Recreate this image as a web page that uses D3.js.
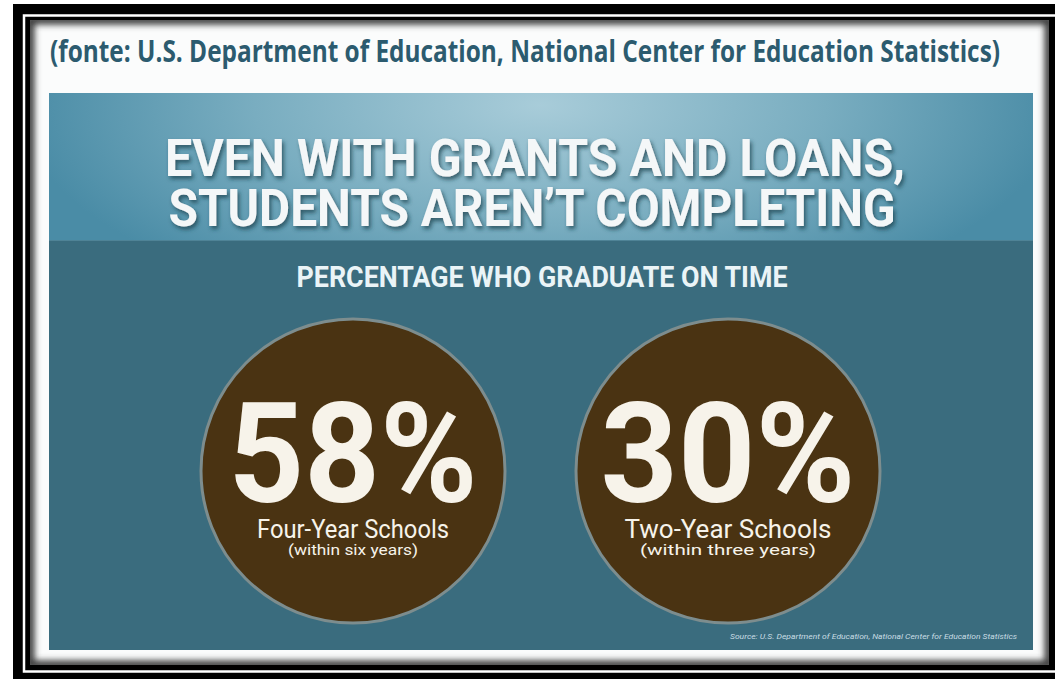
<!DOCTYPE html>
<html>
<head>
<meta charset="utf-8">
<script src="https://cdn.jsdelivr.net/npm/d3@7"></script>
<style>
  html, body { margin: 0; padding: 0; background: #ffffff; }
  svg { display: block; }
</style>
</head>
<body>
<svg id="chart" width="1055" height="679"></svg>
<script>
// ---- data ----
const sourceLine = "(fonte: U.S. Department of Education, National Center for Education Statistics)";
const titleLines = ["EVEN WITH GRANTS AND LOANS,", "STUDENTS AREN\u2019T COMPLETING"];
const subtitle = "PERCENTAGE WHO GRADUATE ON TIME";
const categories = ["Four-Year Schools", "Two-Year Schools"];
const notes = ["(within six years)", "(within three years)"];
const values = [58, 30];
const footnote = "Source: U.S. Department of Education, National Center for Education Statistics";

const svg = d3.select("#chart");
const defs = svg.append("defs");

// ---- frame ----
svg.append("rect").attr("x", 13).attr("y", 4).attr("width", 1042).attr("height", 675).attr("fill", "#000");
svg.append("rect").attr("x", 24).attr("y", 15.5).attr("width", 1060).attr("height", 656)
  .attr("fill", "none").attr("stroke", "#fff").attr("stroke-width", 2.5);
svg.append("rect").attr("x", 28).attr("y", 19).attr("width", 1040).attr("height", 648).attr("fill", "#000");

// white mat with a soft inner shadow
defs.append("clipPath").attr("id", "matClip")
  .append("rect").attr("x", 30).attr("y", 20).attr("width", 1019).attr("height", 645);
defs.append("filter").attr("id", "soft").attr("x", "-5%").attr("y", "-5%").attr("width", "110%").attr("height", "110%")
  .append("feGaussianBlur").attr("stdDeviation", 3);
svg.append("rect").attr("x", 30).attr("y", 20).attr("width", 1019).attr("height", 645).attr("fill", "#fbfcfc");
svg.append("g").attr("clip-path", "url(#matClip)")
  .append("rect").attr("x", 30).attr("y", 20).attr("width", 1019).attr("height", 645)
  .attr("fill", "none").attr("stroke", "#3a3a3a").attr("stroke-width", 9).attr("filter", "url(#soft)");

// ---- source line above the panel ----
svg.append("text")
  .attr("x", 525).attr("y", 62)
  .attr("text-anchor", "middle")
  .attr("font-family", "'Open Sans', 'Noto Sans', sans-serif")
  .attr("font-weight", 700)
  .attr("font-size", 31)
  .attr("fill", "#2c5b6f")
  .attr("textLength", 950).attr("lengthAdjust", "spacingAndGlyphs")
  .text(sourceLine);

// ---- panel ----
const panel = { x: 49, y: 93, w: 984, h: 557, headerH: 147 };

const rg = defs.append("radialGradient").attr("id", "headerGrad")
  .attr("gradientUnits", "userSpaceOnUse")
  .attr("cx", 540).attr("cy", 105).attr("r", 520)
  .attr("gradientTransform", "translate(540,105) scale(1,0.42) translate(-540,-105)");
rg.append("stop").attr("offset", 0).attr("stop-color", "#a8ccd9");
rg.append("stop").attr("offset", 0.55).attr("stop-color", "#79adc0");
rg.append("stop").attr("offset", 1).attr("stop-color", "#4a8ca6");

svg.append("rect").attr("x", panel.x).attr("y", panel.y).attr("width", panel.w).attr("height", panel.h)
  .attr("fill", "#3a6c7e");
svg.append("rect").attr("x", panel.x).attr("y", panel.y).attr("width", panel.w).attr("height", panel.headerH)
  .attr("fill", "url(#headerGrad)");
svg.append("line")
  .attr("x1", panel.x).attr("x2", panel.x + panel.w)
  .attr("y1", panel.y + panel.headerH + 0.5).attr("y2", panel.y + panel.headerH + 0.5)
  .attr("stroke", "#4f8396").attr("stroke-width", 1);

// title with drop shadow
const shadow = defs.append("filter").attr("id", "titleShadow")
  .attr("x", "-5%").attr("y", "-20%").attr("width", "110%").attr("height", "150%");
shadow.append("feDropShadow").attr("dx", 2).attr("dy", 3).attr("stdDeviation", 2)
  .attr("flood-color", "#1d3f4d").attr("flood-opacity", 0.75);

const titleY = d3.scalePoint().domain(titleLines).range([176, 226]);
const titleWidth = [740, 727];
svg.append("g").attr("filter", "url(#titleShadow)")
  .selectAll("text").data(titleLines).join("text")
  .attr("x", (d, i) => i === 0 ? 535 : 532)
  .attr("y", d => titleY(d))
  .attr("text-anchor", "middle")
  .attr("font-family", "Roboto, 'DejaVu Sans', sans-serif")
  .attr("font-weight", 700)
  .attr("font-size", 52)
  .attr("fill", "#f4f7f8")
  .attr("textLength", (d, i) => titleWidth[i]).attr("lengthAdjust", "spacingAndGlyphs")
  .text(d => d);

svg.append("text")
  .attr("x", 542).attr("y", 287)
  .attr("text-anchor", "middle")
  .attr("font-family", "Roboto, 'DejaVu Sans', sans-serif")
  .attr("font-weight", 700)
  .attr("font-size", 30)
  .attr("fill", "#eaf4f7")
  .attr("textLength", 491).attr("lengthAdjust", "spacingAndGlyphs")
  .text(subtitle);

// ---- circles with percentages ----
const x = d3.scalePoint().domain(categories).range([353, 728]);
const cy = 471, r = 152;
const fmt = d => d3.format("d")(d) + "%";

const groups = svg.append("g").selectAll("g")
  .data(categories.map((c, i) => ({ cat: c, note: notes[i], value: values[i], i })))
  .join("g")
  .attr("transform", d => `translate(${x(d.cat)},${cy})`);

groups.append("circle")
  .attr("r", r)
  .attr("fill", "#4a3312")
  .attr("stroke", "#7d8d8e")
  .attr("stroke-width", 3);

const bigW = [249, 255];
groups.append("text")
  .attr("y", 31)
  .attr("text-anchor", "middle")
  .attr("font-family", "Roboto, 'DejaVu Sans', sans-serif")
  .attr("font-weight", 700)
  .attr("font-size", 139)
  .attr("fill", "#f7f3ea")
  .attr("textLength", d => bigW[d.i]).attr("lengthAdjust", "spacingAndGlyphs")
  .text(d => fmt(d.value));

const catW = [192, 207];
groups.append("text")
  .attr("y", 67)
  .attr("text-anchor", "middle")
  .attr("font-family", "Roboto, 'DejaVu Sans', sans-serif")
  .attr("font-weight", 400)
  .attr("font-size", 25)
  .attr("fill", "#f7f3ea")
  .attr("textLength", d => catW[d.i]).attr("lengthAdjust", "spacingAndGlyphs")
  .text(d => d.cat);

const noteW = [130, 176];
groups.append("text")
  .attr("y", 84)
  .attr("text-anchor", "middle")
  .attr("font-family", "Roboto, 'DejaVu Sans', sans-serif")
  .attr("font-weight", 400)
  .attr("font-size", 15)
  .attr("fill", "#f7f3ea")
  .attr("textLength", d => noteW[d.i]).attr("lengthAdjust", "spacingAndGlyphs")
  .text(d => d.note);

// ---- footnote ----
svg.append("text")
  .attr("x", 1017).attr("y", 639)
  .attr("text-anchor", "end")
  .attr("font-family", "Roboto, 'DejaVu Sans', sans-serif")
  .attr("font-style", "italic")
  .attr("font-size", 8)
  .attr("fill", "#c9dde4")
  .attr("textLength", 287).attr("lengthAdjust", "spacingAndGlyphs")
  .text(footnote);
</script>
</body>
</html>
